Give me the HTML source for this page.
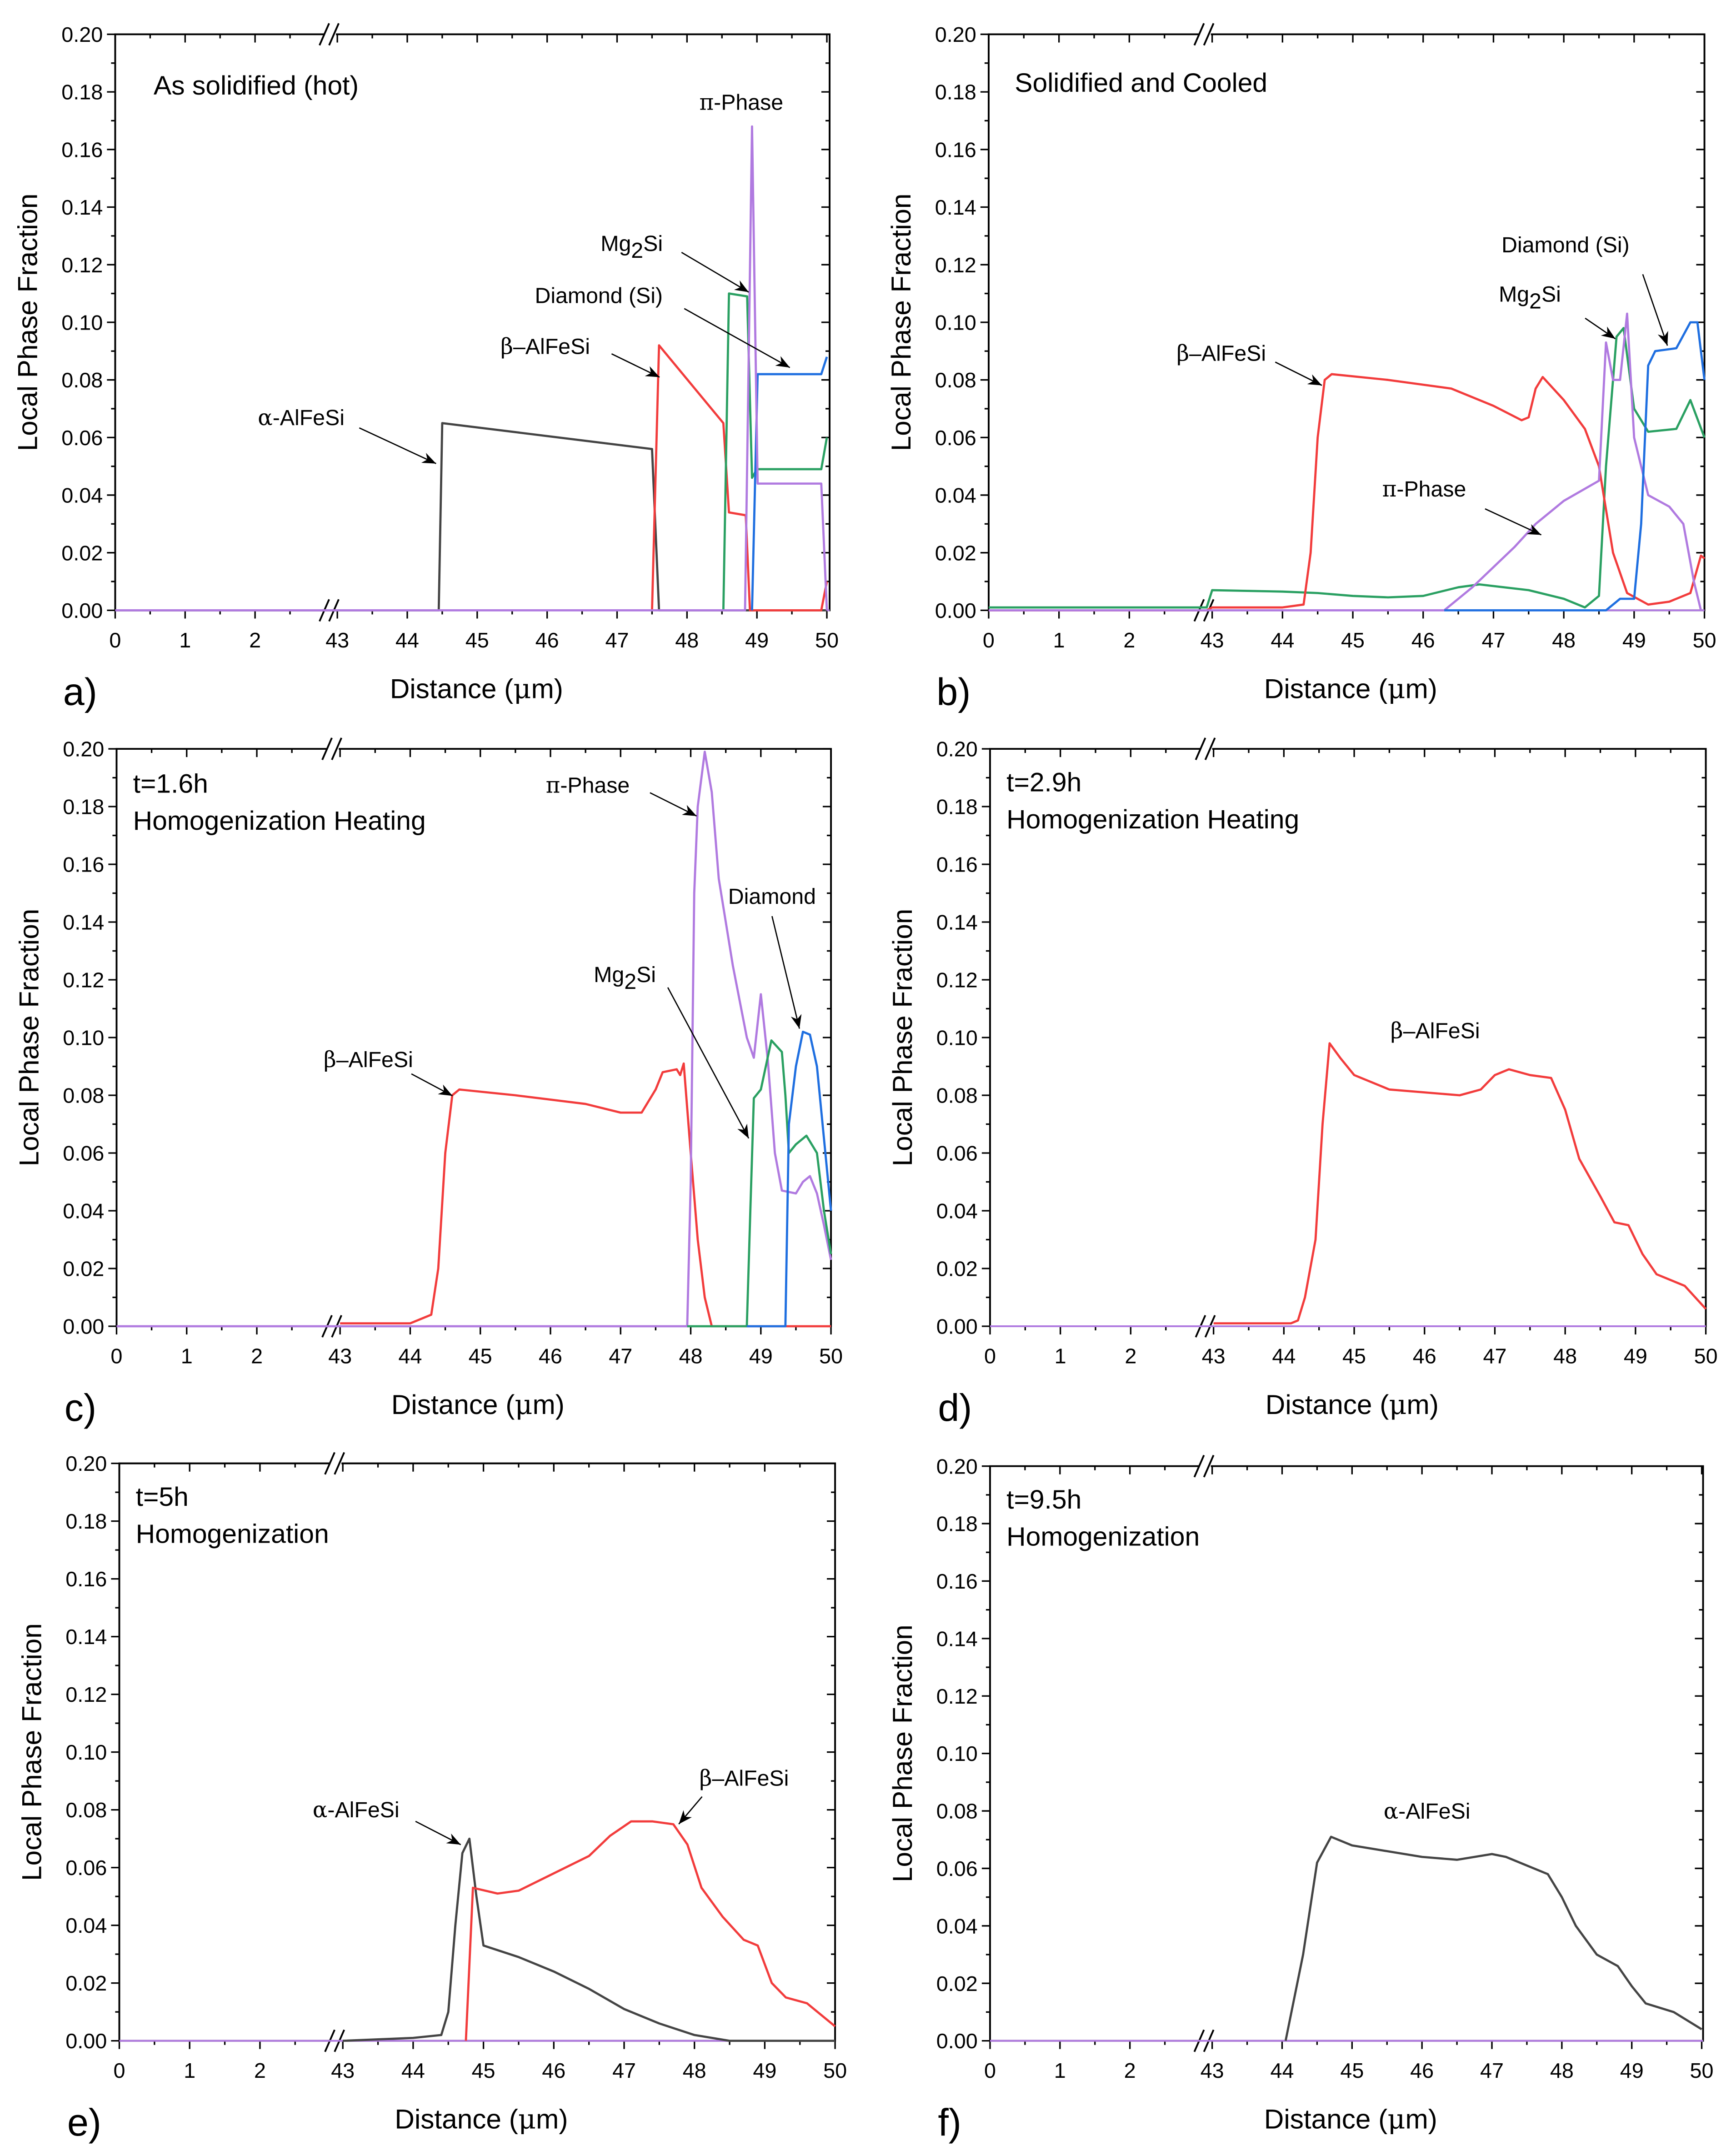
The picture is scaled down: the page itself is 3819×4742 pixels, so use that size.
<!DOCTYPE html>
<html><head><meta charset="utf-8"><style>
html,body{margin:0;padding:0;background:#fff}
svg{display:block}
text{font-family:"Liberation Sans",sans-serif;fill:#000}
</style></head><body>
<svg id="fig" xmlns="http://www.w3.org/2000/svg" width="3819" height="4742" viewBox="0 0 1266 1572"></svg>
<script>
// ---- data arrays (x in µm, y = local phase fraction) ----
const yTicks = [0,0.02,0.04,0.06,0.08,0.10,0.12,0.14,0.16,0.18,0.20];
const yTickLabels = ["0.00","0.02","0.04","0.06","0.08","0.10","0.12","0.14","0.16","0.18","0.20"];
const xTicks = [0,1,2,43,44,45,46,47,48,49,50];

// panel a
const aAlphaX=[0,44.45,44.5,47.5,47.6,50]; const aAlphaY=[0,0,0.065,0.056,0,0];
const aBetaX=[47.5,47.6,48.52,48.6,48.84,48.9,49.92,50]; const aBetaY=[0,0.092,0.065,0.034,0.033,0,0,0.01];
const aMgX=[48.52,48.6,48.86,48.93,49.0,49.92,50]; const aMgY=[0,0.11,0.109,0.046,0.049,0.049,0.06];
const aDiaX=[48.93,49.01,49.92,50]; const aDiaY=[0,0.082,0.082,0.088];
const aPiX=[0,48.83,48.93,49.01,49.92,50]; const aPiY=[0,0,0.168,0.044,0.044,0];
// panel b
const bMgX=[0,3.1,43,44,44.5,45,45.5,46,46.5,46.8,47.5,48,48.3,48.5,48.6,48.75,48.85,49,49.2,49.6,49.8,50];
const bMgY=[0.001,0.001,0.007,0.0065,0.006,0.005,0.0045,0.005,0.008,0.009,0.007,0.004,0.001,0.005,0.05,0.095,0.098,0.07,0.062,0.063,0.073,0.06];
const bBetaX=[0,3.1,43,44,44.3,44.4,44.5,44.6,44.7,45.5,46.4,47,47.4,47.5,47.6,47.7,48,48.3,48.5,48.7,48.9,49.2,49.5,49.8,49.95,50];
const bBetaY=[0,0,0.001,0.001,0.002,0.02,0.06,0.08,0.082,0.08,0.077,0.071,0.066,0.067,0.077,0.081,0.073,0.063,0.05,0.02,0.006,0.002,0.003,0.006,0.019,0.018];
const bPiX=[0,46.3,46.7,47,47.3,47.6,48,48.5,48.6,48.7,48.8,48.9,49,49.2,49.5,49.7,49.85,49.95];
const bPiY=[0,0,0.008,0.015,0.022,0.03,0.038,0.045,0.093,0.08,0.08,0.103,0.06,0.04,0.036,0.03,0.01,0];
const bDiaX=[46.3,48.6,48.8,49,49.1,49.2,49.3,49.6,49.8,49.9,50]; const bDiaY=[0,0,0.004,0.004,0.03,0.085,0.09,0.091,0.1,0.1,0.08];
// panel c
const cBetaX=[43,44,44.3,44.4,44.5,44.6,44.7,45.5,46.5,47,47.3,47.5,47.6,47.8,47.85,47.9,48.0,48.1,48.2,48.3,50];
const cBetaY=[0.001,0.001,0.004,0.02,0.06,0.08,0.082,0.08,0.077,0.074,0.074,0.082,0.088,0.089,0.087,0.091,0.06,0.03,0.01,0,0];
const cPiX=[0,47.95,48.0,48.05,48.1,48.2,48.3,48.4,48.6,48.8,48.9,49.0,49.1,49.2,49.3,49.5,49.6,49.7,49.8,49.9,50];
const cPiY=[0,0,0.05,0.15,0.18,0.199,0.185,0.155,0.125,0.1,0.093,0.115,0.092,0.06,0.047,0.046,0.05,0.052,0.046,0.035,0.023];
const cMgX=[47.95,48.8,48.85,48.9,49.0,49.15,49.3,49.35,49.4,49.5,49.65,49.8,49.9,50];
const cMgY=[0,0,0.04,0.079,0.082,0.099,0.095,0.08,0.06,0.063,0.066,0.06,0.04,0.025];
const cDiaX=[48.8,49.35,49.4,49.5,49.6,49.7,49.8,49.9,50]; const cDiaY=[0,0,0.07,0.09,0.102,0.101,0.09,0.065,0.04];
// panel d
const dBetaX=[43,44.1,44.2,44.3,44.45,44.55,44.65,44.8,45,45.5,46.5,46.8,47,47.2,47.5,47.8,48,48.2,48.5,48.7,48.9,49.1,49.3,49.7,50];
const dBetaY=[0.001,0.001,0.002,0.01,0.03,0.07,0.098,0.093,0.087,0.082,0.08,0.082,0.087,0.089,0.087,0.086,0.075,0.058,0.045,0.036,0.035,0.025,0.018,0.014,0.006];
// panel e
const eAlphaX=[43,44,44.4,44.5,44.6,44.7,44.8,44.9,45,45.5,46,46.5,47,47.5,48,48.5,50];
const eAlphaY=[0,0.001,0.002,0.01,0.04,0.065,0.07,0.05,0.033,0.029,0.024,0.018,0.011,0.006,0.002,0,0];
const eBetaX=[44.75,44.85,45.2,45.5,46,46.5,46.8,47.1,47.4,47.7,47.9,48.1,48.4,48.7,48.9,49.1,49.3,49.6,50];
const eBetaY=[0,0.053,0.051,0.052,0.058,0.064,0.071,0.076,0.076,0.075,0.068,0.053,0.043,0.035,0.033,0.02,0.015,0.013,0.005];
// panel f
const fAlphaX=[44.05,44.3,44.5,44.7,45,45.5,46,46.5,47,47.2,47.5,47.8,48,48.2,48.5,48.8,49,49.2,49.6,50];
const fAlphaY=[0,0.03,0.062,0.071,0.068,0.066,0.064,0.063,0.065,0.064,0.061,0.058,0.05,0.04,0.03,0.026,0.019,0.013,0.01,0.004];

const RED="#f23c3c",GRN="#2aa062",BLU="#1f6fe0",PUR="#b07ae0",BLK="#444";
const NS="http://www.w3.org/2000/svg";
const svg=document.getElementById('fig');
function el(tag,attrs,parent){const e=document.createElementNS(NS,tag);for(const k in attrs)e.setAttribute(k,attrs[k]);(parent||svg).appendChild(e);return e;}
const defs=el('defs',{});
const mk=el('marker',{id:'arr',viewBox:'0 0 10 10',refX:'10',refY:'5',markerWidth:'14',markerHeight:'10',markerUnits:'userSpaceOnUse',orient:'auto'},defs);
el('path',{d:'M0,1 L10,5 L0,9 L3,5 z',fill:'#000'},mk);

function makePanel(P){
  const g=el('g',{});
  
  
  const u=(P.x50-P.x43)/7;
  const X=v=> v<10 ? P.L+v*u : P.x43+(v-43)*u;
  const Y=v=> P.B-(v/0.2)*(P.B-P.T);
  const brk=P.x43-5;
  const fr=el('path',{d:`M${P.L},${P.T} H${P.R} V${P.B} H${P.L} Z`,fill:'none',stroke:'#000','stroke-width':1.3},g);
  
  [P.T,P.B].forEach(yy=>{
    el('rect',{x:brk-4,y:yy-3,width:8,height:6,fill:'#fff'},g);
    el('line',{x1:brk-8,y1:yy+8,x2:brk-1,y2:yy-8,stroke:'#000','stroke-width':1.3},g);
    el('line',{x1:brk-1,y1:yy+8,x2:brk+6,y2:yy-8,stroke:'#000','stroke-width':1.3},g);
  });
  for(let i=0;i<=20;i++){
    const yy=Y(i*0.01),maj=i%2==0,len=maj?6:3;
    el('line',{x1:P.L-len,y1:yy,x2:P.L,y2:yy,stroke:'#000','stroke-width':1.1},g);
    el('line',{x1:P.R-len,y1:yy,x2:P.R,y2:yy,stroke:'#000','stroke-width':1.1},g);
  }
  yTicks.forEach((v,i)=>{const t=el('text',{x:P.L-9,y:Y(v)+5.5,'font-size':15.5,'text-anchor':'end'},g);t.textContent=yTickLabels[i];
    });
  const minors=[0.5,1.5,2.5,43.5,44.5,45.5,46.5,47.5,48.5,49.5];
  xTicks.forEach(v=>{const xx=X(v);
    el('line',{x1:xx,y1:P.B,x2:xx,y2:P.B+6,stroke:'#000','stroke-width':1.1},g);
    el('line',{x1:xx,y1:P.T,x2:xx,y2:P.T+6,stroke:'#000','stroke-width':1.1},g);
    const t=el('text',{x:xx,y:P.B+27,'font-size':15.5,'text-anchor':'middle'},g);t.textContent=String(v);
    });
  minors.forEach(v=>{const xx=X(v);
    el('line',{x1:xx,y1:P.B,x2:xx,y2:P.B+3,stroke:'#000','stroke-width':1.1},g);
    el('line',{x1:xx,y1:P.T,x2:xx,y2:P.T+3,stroke:'#000','stroke-width':1.1},g);});
  const xt=el('text',{x:(P.L+P.R)/2+3,y:P.B+64,'font-size':20,'text-anchor':'middle'},g);
  xt.innerHTML='Distance (<tspan font-family="DejaVu Serif,serif">μ</tspan>m)';
  
  const cy=(P.T+P.B)/2;
  const yt=el('text',{x:P.L-57,y:cy,'font-size':20,'text-anchor':'middle',transform:`rotate(-90 ${P.L-57} ${cy})`},g);
  yt.textContent='Local Phase Fraction';
  
  const pl=el('text',{x:P.L-38,y:P.B+69,'font-size':28},g);pl.textContent=P.id+')';
  
  const bl=el('line',{x1:P.L,y1:P.B,x2:P.R,y2:P.B,stroke:P.base,'stroke-width':1.3},g);
  
  P.series.forEach(s=>{
    let d='';
    s.x.forEach((v,i)=>{ if(v>3.1&&v<43) return; d+=(d?'L':'M')+X(v).toFixed(2)+','+Y(s.y[i]).toFixed(2);});
    const p=el('path',{d:d,fill:'none',stroke:s.c,'stroke-width':1.6,'stroke-linejoin':'round'},g);
    
    
  });
  P.texts.forEach(t=>{const e=el('text',{x:t[0],y:t[1],'font-size':t[3]||16},g);e.innerHTML=t[2];
    });
  P.arrows.forEach(a=>{const e=el('line',{x1:a[0],y1:a[1],x2:a[2],y2:a[3],stroke:'#000','stroke-width':0.9,'marker-end':'url(#arr)'},g);
    });
}
const pi='<tspan font-family="DejaVu Serif,serif">π</tspan>';
const al='<tspan font-family="DejaVu Serif,serif">α</tspan>';
const be='<tspan font-family="DejaVu Serif,serif">β</tspan>';
const mg='Mg<tspan dy="5">2</tspan><tspan dy="-5">Si</tspan>';

makePanel({id:'a',L:84,R:605,T:25,B:445,x43:246,x50:603,base:PUR,
 series:[{name:'alpha-alfesi-line',x:aAlphaX,y:aAlphaY,c:BLK},{name:'beta-alfesi-line',x:aBetaX,y:aBetaY,c:RED},
  {name:'mg2si-line',x:aMgX,y:aMgY,c:GRN},{name:'diamond-line',x:aDiaX,y:aDiaY,c:BLU},{name:'pi-phase-line',x:aPiX,y:aPiY,c:PUR}],
 texts:[[112,69,'As solidified (hot)',19.5],[510,80,pi+'-Phase'],[438,183,mg],[390,221,'Diamond (Si)'],[365,258,be+'–AlFeSi'],[188,310,al+'-AlFeSi']],
 arrows:[[262,312,318,338],[446,258,481,275],[497,184,546,213],[499,225,576,268]]});
makePanel({id:'b',L:721,R:1243,T:25,B:445,x43:884,x50:1243,base:PUR,
 series:[{name:'mg2si-line',x:bMgX,y:bMgY,c:GRN},{name:'beta-alfesi-line',x:bBetaX,y:bBetaY,c:RED},
  {name:'pi-phase-line',x:bPiX,y:bPiY,c:PUR},{name:'diamond-line',x:bDiaX,y:bDiaY,c:BLU}],
 texts:[[740,67,'Solidified and Cooled',19.5],[1095,184,'Diamond (Si)'],[1093,220,mg],[858,263,be+'–AlFeSi'],[1008,362,pi+'-Phase']],
 arrows:[[930,264,964,281],[1083,371,1124,390],[1156,232,1178,247],[1198,200,1216,252]]});
makePanel({id:'c',L:85,R:606,T:546,B:967,x43:248,x50:606,base:PUR,
 series:[{name:'beta-alfesi-line',x:cBetaX,y:cBetaY,c:RED},{name:'pi-phase-line',x:cPiX,y:cPiY,c:PUR},
  {name:'mg2si-line',x:cMgX,y:cMgY,c:GRN},{name:'diamond-line',x:cDiaX,y:cDiaY,c:BLU}],
 texts:[[97,578,'t=1.6h',19.5],[97,605,'Homogenization Heating',19.5],[398,578,pi+'-Phase'],[531,659,'Diamond'],[433,716,mg],[236,778,be+'–AlFeSi']],
 arrows:[[300,783,330,799],[474,578,508,595],[563,668,583,750],[487,720,546,830]]});
makePanel({id:'d',L:722,R:1244,T:546,B:967,x43:885,x50:1244,base:PUR,
 series:[{name:'beta-alfesi-line',x:dBetaX,y:dBetaY,c:RED}],
 texts:[[734,577,'t=2.9h',19.5],[734,604,'Homogenization Heating',19.5],[1014,757,be+'–AlFeSi']],arrows:[]});
makePanel({id:'e',L:87,R:609,T:1067,B:1488,x43:250,x50:609,base:PUR,
 series:[{name:'alpha-alfesi-line',x:eAlphaX,y:eAlphaY,c:BLK},{name:'beta-alfesi-line',x:eBetaX,y:eBetaY,c:RED}],
 texts:[[99,1098,'t=5h',19.5],[99,1125,'Homogenization',19.5],[228,1325,al+'-AlFeSi'],[510,1302,be+'–AlFeSi']],
 arrows:[[303,1328,336,1345],[512,1310,495,1330]]});
makePanel({id:'f',L:722,R:1242,T:1069,B:1488,x43:884,x50:1241,base:PUR,
 series:[{name:'alpha-alfesi-line',x:fAlphaX,y:fAlphaY,c:BLK}],
 texts:[[734,1100,'t=9.5h',19.5],[734,1127,'Homogenization',19.5],[1009,1326,al+'-AlFeSi']],arrows:[]});
</script>
</body></html>
